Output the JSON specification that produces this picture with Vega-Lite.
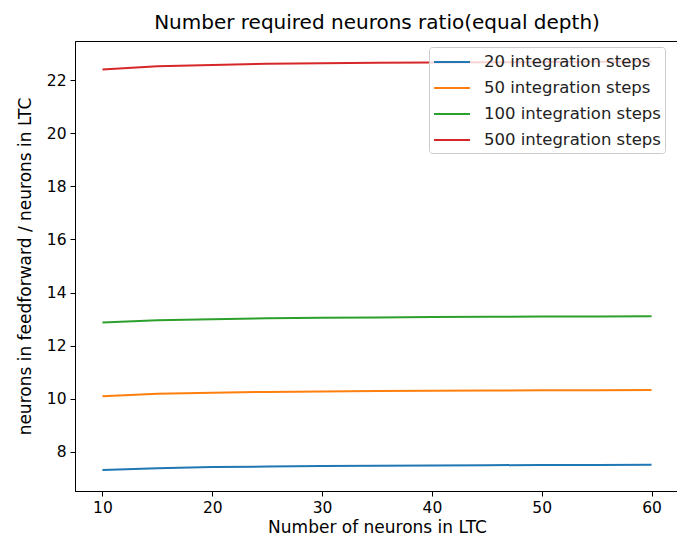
{
  "$schema": "https://vega.github.io/schema/vega-lite/v6.json",
  "width": 604,
  "height": 450,
  "autosize": "none",
  "padding": {"left": 75, "top": 41, "right": 0, "bottom": 57},
  "title": {"text": "Number required neurons ratio(equal depth)", "font": "DejaVu Sans", "fontSize": 20, "fontWeight": "normal", "color": "#000", "offset": 8},
  "config": {
    "view": {"stroke": "#000", "strokeWidth": 1},
    "axis": {"grid": false, "domainColor": "#000", "tickColor": "#000", "tickSize": 5, "labelFont": "DejaVu Sans", "labelFontSize": 15.5, "labelColor": "#000", "titleFont": "DejaVu Sans", "titleFontSize": 17, "titleFontWeight": "normal", "titleColor": "#000", "labelPadding": 4}
  },
  "data": {"values": [
    {"n": 10, "steps": "20 integration steps", "ratio": 7.32},
    {"n": 15, "steps": "20 integration steps", "ratio": 7.39},
    {"n": 20, "steps": "20 integration steps", "ratio": 7.43},
    {"n": 25, "steps": "20 integration steps", "ratio": 7.45},
    {"n": 30, "steps": "20 integration steps", "ratio": 7.47},
    {"n": 35, "steps": "20 integration steps", "ratio": 7.48},
    {"n": 40, "steps": "20 integration steps", "ratio": 7.49},
    {"n": 45, "steps": "20 integration steps", "ratio": 7.50},
    {"n": 50, "steps": "20 integration steps", "ratio": 7.51},
    {"n": 55, "steps": "20 integration steps", "ratio": 7.51},
    {"n": 60, "steps": "20 integration steps", "ratio": 7.52},
    {"n": 10, "steps": "50 integration steps", "ratio": 10.10},
    {"n": 15, "steps": "50 integration steps", "ratio": 10.19},
    {"n": 20, "steps": "50 integration steps", "ratio": 10.23},
    {"n": 25, "steps": "50 integration steps", "ratio": 10.26},
    {"n": 30, "steps": "50 integration steps", "ratio": 10.28},
    {"n": 35, "steps": "50 integration steps", "ratio": 10.29},
    {"n": 40, "steps": "50 integration steps", "ratio": 10.30},
    {"n": 45, "steps": "50 integration steps", "ratio": 10.31},
    {"n": 50, "steps": "50 integration steps", "ratio": 10.32},
    {"n": 55, "steps": "50 integration steps", "ratio": 10.32},
    {"n": 60, "steps": "50 integration steps", "ratio": 10.33},
    {"n": 10, "steps": "100 integration steps", "ratio": 12.87},
    {"n": 15, "steps": "100 integration steps", "ratio": 12.96},
    {"n": 20, "steps": "100 integration steps", "ratio": 13.00},
    {"n": 25, "steps": "100 integration steps", "ratio": 13.03},
    {"n": 30, "steps": "100 integration steps", "ratio": 13.05},
    {"n": 35, "steps": "100 integration steps", "ratio": 13.06},
    {"n": 40, "steps": "100 integration steps", "ratio": 13.08},
    {"n": 45, "steps": "100 integration steps", "ratio": 13.09},
    {"n": 50, "steps": "100 integration steps", "ratio": 13.10},
    {"n": 55, "steps": "100 integration steps", "ratio": 13.10},
    {"n": 60, "steps": "100 integration steps", "ratio": 13.11},
    {"n": 10, "steps": "500 integration steps", "ratio": 22.40},
    {"n": 15, "steps": "500 integration steps", "ratio": 22.52},
    {"n": 20, "steps": "500 integration steps", "ratio": 22.57},
    {"n": 25, "steps": "500 integration steps", "ratio": 22.61},
    {"n": 30, "steps": "500 integration steps", "ratio": 22.63},
    {"n": 35, "steps": "500 integration steps", "ratio": 22.65},
    {"n": 40, "steps": "500 integration steps", "ratio": 22.66},
    {"n": 45, "steps": "500 integration steps", "ratio": 22.67},
    {"n": 50, "steps": "500 integration steps", "ratio": 22.68},
    {"n": 55, "steps": "500 integration steps", "ratio": 22.69},
    {"n": 60, "steps": "500 integration steps", "ratio": 22.70}
  ]},
  "mark": {"type": "line", "strokeWidth": 2},
  "encoding": {
    "x": {"field": "n", "type": "quantitative", "title": "Number of neurons in LTC",
      "scale": {"domain": [7.5, 62.5], "nice": false, "zero": false},
      "axis": {"values": [10, 20, 30, 40, 50, 60], "titlePadding": 4}},
    "y": {"field": "ratio", "type": "quantitative", "title": "neurons in feedforward / neurons in LTC",
      "scale": {"domain": [6.53, 23.47], "nice": false, "zero": false},
      "axis": {"values": [8, 10, 12, 14, 16, 18, 20, 22], "titlePadding": 12}},
    "color": {"field": "steps", "type": "nominal",
      "scale": {"domain": ["20 integration steps", "50 integration steps", "100 integration steps", "500 integration steps"], "range": ["#1f77b4", "#ff7f0e", "#2ca02c", "#d62728"]},
      "legend": {"title": null, "orient": "none", "legendX": 354, "legendY": 6, "symbolType": "M-1,0H2.6", "symbolSize": 400, "symbolStrokeWidth": 2, "labelFont": "DejaVu Sans", "labelFontSize": 16.5, "labelColor": "#222", "labelLimit": 400, "labelOffset": 29, "rowPadding": 6, "padding": 4, "fillColor": "rgba(255,255,255,0.8)", "strokeColor": "#ccc", "cornerRadius": 3}
    }
  }
}
